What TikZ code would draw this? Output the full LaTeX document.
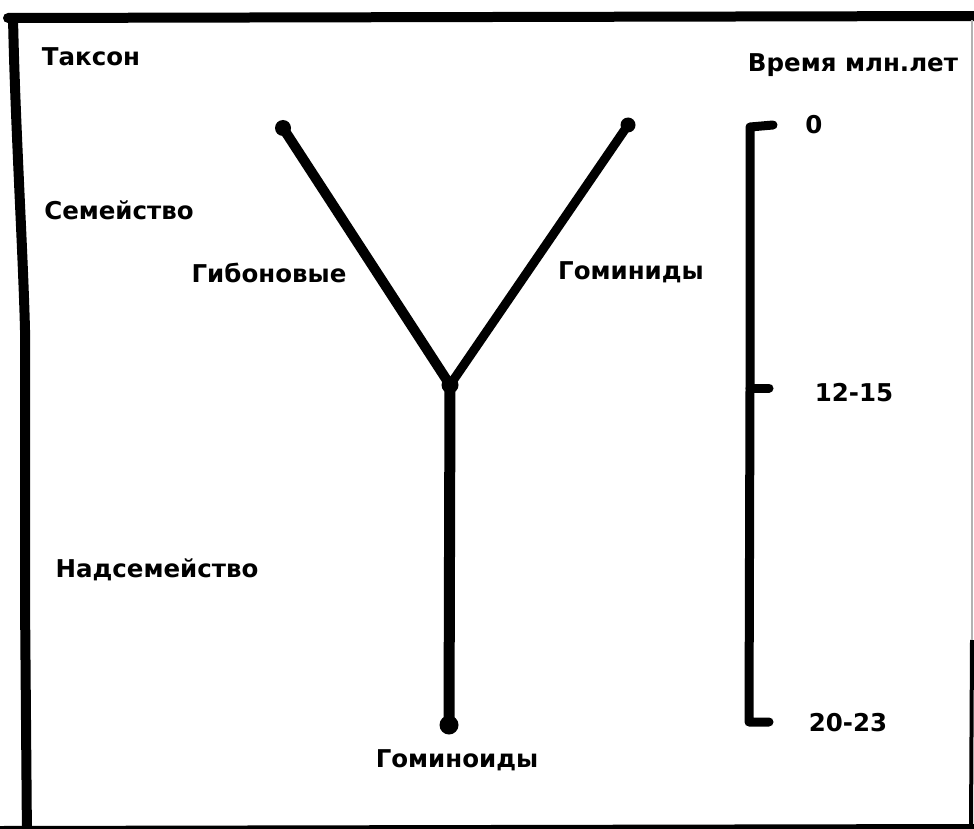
\documentclass[tikz,border=0pt]{standalone}
\usepackage{fontspec}
\setmainfont{DejaVu Sans}
\begin{document}
\begin{tikzpicture}[x=1pt,y=-1pt,
  lbl/.style={font=\bfseries\fontsize{24.5}{28}\selectfont, inner sep=0pt, anchor=center},
  branch/.style={line width=10pt, line cap=round, line join=round, black},
  scaleline/.style={line width=9pt, line cap=round, line join=round, black},
  frame/.style={line width=10pt, line cap=round, line join=round, black},
  blob/.style={circle, fill=black, inner sep=0pt, minimum size=17pt}
]
\useasboundingbox (0,0) rectangle (974,829);
\fill[white] (0,0) rectangle (974,829);
% frame
\coordinate (f1) at (8,18);
\coordinate (f2) at (980,16);
\draw[frame] (f1) -- (f2);
\draw[frame, line cap=butt] (13,17) .. controls (15,120) and (23,250) .. (25,330) -- (25,600) -- (27,840);
\draw[line width=6pt] (0,829) -- (974,827);
\draw[gray!60, line width=1.2pt] (972,20) -- (972,640);
\draw[line width=4pt, line cap=butt] (972,640) -- (971,829);
% tree
\node[blob, minimum size=16pt] (tl) at (283,128) {};
\node[blob, minimum size=15pt] (tr) at (628,125) {};
\node[blob, minimum size=17pt] (j) at (450,385) {};
\node[blob, minimum size=19pt] (b) at (449,725) {};
\draw[branch] (tl.center) -- (j.center);
\draw[branch, line width=9pt] (tr.center) -- (j.center);
\draw[branch, line width=11pt] (j.center) -- (b.center);
% time scale
\coordinate (s0) at (750,127);
\coordinate (s1) at (750,388);
\coordinate (s2) at (749,722);
\coordinate (t0) at (773,125);
\coordinate (t1) at (769,388);
\coordinate (t2) at (769,722);
\draw[scaleline] (t0) -- (s0) -- (s1) -- (s2) -- (t2);
\draw[scaleline] (s1) -- (t1);
% labels
\node[lbl] (taxon) at (91,57) {Таксон};
\node[lbl] (time) at (853,65) {Время млн.лет};
\node[lbl] (l0) at (814,125) {0};
\node[lbl] (fam) at (119,210) {Семейство};
\node[lbl] (gib) at (269,273) {Гибоновые};
\node[lbl] (hom) at (631,272) {Гоминиды};
\node[lbl] (l12) at (854,393) {12-15};
\node[lbl] (sup) at (157,570) {Надсемейство};
\node[lbl] (l20) at (848,723) {20-23};
\node[lbl] (hoid) at (457,760) {Гоминоиды};
\end{tikzpicture}
\end{document}
